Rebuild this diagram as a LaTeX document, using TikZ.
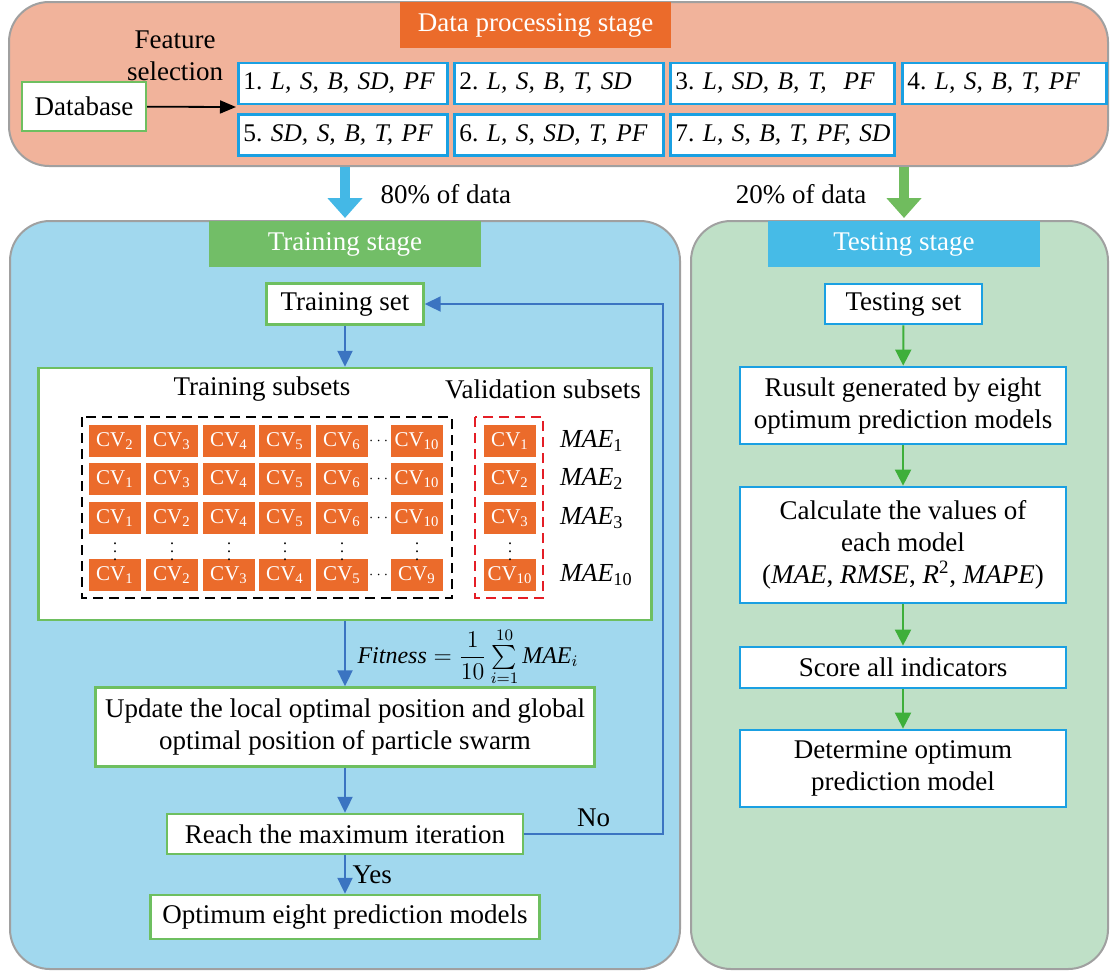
\documentclass[tikz,border=0pt]{standalone}
\usepackage{amsmath}
\usepackage{fontspec}
\setmainfont{Liberation Serif}
\usepackage{tikz}
\usetikzlibrary{arrows.meta,positioning}

\definecolor{DataBg}{HTML}{F1B39B}
\definecolor{TrainBg}{HTML}{A1D8EE}
\definecolor{TestBg}{HTML}{BFE0C7}
\definecolor{PanelGray}{HTML}{A0A0A0}
\definecolor{StageOrange}{HTML}{EB6B2B}
\definecolor{TitleGreen}{HTML}{72BE67}
\definecolor{TitleBlue}{HTML}{46BBE7}
\definecolor{BoxGreen}{HTML}{6EBF60}
\definecolor{BoxBlue}{HTML}{1AA0E2}
\definecolor{ArrowBlue}{HTML}{3B74C1}
\definecolor{ArrowGreen}{HTML}{3EAF3A}
\definecolor{SplitBlue}{HTML}{44B8E6}
\definecolor{SplitGreen}{HTML}{70BC5E}
\definecolor{DashRed}{HTML}{E41E26}

\begin{document}
\frenchspacing
\begin{tikzpicture}[x=0.5pt,y=-0.5pt,font=\fontsize{13.5}{16}\selectfont,
	panel/.style={draw=PanelGray,line width=1pt,rounded corners=20pt,inner sep=0pt},
	stagetitle/.style={fill=#1,text=white,minimum height=23pt,inner sep=0pt,anchor=north},
	greenbox/.style={draw=BoxGreen,fill=white,line width=1.2pt,inner sep=2pt,align=center},
	bluebox/.style={draw=BoxBlue,fill=white,line width=1.4pt,inner sep=2pt,align=center},
	featbox/.style={bluebox,anchor=west,align=left,inner xsep=2.5pt,minimum height=20.5pt,text width=#1,font=\fontsize{12.7}{15}\selectfont},
	cvcell/.style={fill=StageOrange,text=white,minimum width=26pt,minimum height=16pt,inner sep=0pt,font=\fontsize{10.5}{12}\selectfont},
	foldbox/.style={draw=#1,line width=1.2pt,dash pattern=on 5pt off 3pt},
	trainflow/.style={draw=ArrowBlue,line width=1pt,-{Triangle[length=8pt,width=7.5pt]}},
	testflow/.style={draw=ArrowGreen,line width=1pt,-{Triangle[length=8pt,width=8pt]}},
	split/.style={draw=#1,line width=5pt,shorten >=1.5pt,-{Triangle[length=10pt,width=17pt]}}]
	\useasboundingbox (0,0) rectangle (1111,970);

	\node (dpp) at (558.5,84)  [panel,fill=DataBg,minimum width=549.5pt,minimum height=82pt] {};
	\node (trp) at (345,595)   [panel,fill=TrainBg,minimum width=335pt,minimum height=374pt] {};
	\node (tsp) at (899.5,595) [panel,fill=TestBg,minimum width=208.5pt,minimum height=374pt] {};

	\node (dpt) at (535.5,2) [stagetitle=StageOrange,minimum width=135.5pt] {Data processing stage};
	\node (trt) at (345,221) [stagetitle=TitleGreen,minimum width=136pt] {Training stage};
	\node (tst) at (904,221) [stagetitle=TitleBlue,minimum width=136pt] {Testing stage};

	\node (fsel) at (175,56) [align=center] {Feature\\selection};
	\node (db) at (84,106.5) [greenbox,minimum width=62pt,minimum height=24.5pt] {Database};
	\coordinate (fsin) at (236,107);
	\draw [-{Triangle[length=8pt,width=6.5pt]},line width=0.9pt] (db) -- (fsin);

	\node (fs1) at (237,83.5) [featbox=99.5pt] {\mbox{1. \textit{L, S, B, SD, PF}}};
	\node (fs2) at (453,83.5) [featbox=99.5pt] {\mbox{2. \textit{L, S, B, T, SD}}};
	\node (fs3) at (669,83.5) [featbox=107pt]  {\mbox{3. \textit{L, SD, B, T,\ \ PF}}};
	\node (fs4) at (901,83.5) [featbox=97pt]   {\mbox{4. \textit{L, S, B, T, PF}}};
	\node (fs5) at (237,135)  [featbox=99.5pt] {\mbox{5. \textit{SD, S, B, T, PF}}};
	\node (fs6) at (453,135)  [featbox=99.5pt] {\mbox{6. \textit{L, S, SD, T, PF}}};
	\node (fs7) at (669,135)  [featbox=107pt]  {\mbox{7. \textit{L, S, B, T, PF, SD}}};

	\draw [split=SplitBlue]  (dpp.south -| trt) -- node (p80) [right=12pt] {80\% of data} (trt.north);
	\draw [split=SplitGreen] (dpp.south -| tst) -- node (p20) [left=13pt] {20\% of data} (tst.north);

	\node (trset) at (345,304) [greenbox,minimum width=78.5pt,minimum height=20.5pt] {Training set};
	\node (cvbox) at (345,494) [greenbox,minimum width=306.5pt,minimum height=126pt] {};
	\node (trsub) at (262,389) {Training subsets};
	\node (vasub) at (543,389) {Validation subsets};
	\draw [foldbox=black]   (82,417) rectangle (452,598);
	\draw [foldbox=DashRed] (475,417) rectangle (543,598);

	\foreach \y/\row/\v [count=\r] in {441/{115/2,172/3,229/4,285/5,342/6,417/10}/1,
			479/{115/1,172/3,229/4,285/5,342/6,417/10}/2,
			518/{115/1,172/2,229/4,285/5,342/6,417/10}/3,
			575/{115/1,172/2,229/3,285/4,342/5,417/9}/10} {
		\foreach \x/\k [count=\c] in \row
			\node (cv\r\c) at (\x,\y) [cvcell] {CV\textsubscript{\k}};
		\node (hd\r) at (380,\y) [inner sep=0pt,font=\fontsize{7}{8}\selectfont] {$\cdots$};
		\node (val\r) at (510,\y) [cvcell] {CV\textsubscript{\v}};
		\node (mae\r) at (553,\y) [anchor=west,font=\fontsize{13}{15}\selectfont] {\textit{MAE}\textsubscript{\v}};
	}
	\foreach \x [count=\c] in {115,172,229,285,342,417,510}
		\node (vd\c) at (\x,546) [inner sep=0pt,font=\fontsize{8}{9}\selectfont] {$\vdots$};

	\node (fit) at (468,657) [inner sep=0pt,font=\fontsize{12}{14}\selectfont] {$\textit{Fitness}=\dfrac{1}{10}\sum\limits_{i=1}^{10}\textit{MAE}_i$};
	\node (upd) at (345,727) [greenbox,minimum width=249.5pt,minimum height=39.5pt] {Update the local optimal position and global\\optimal position of particle swarm};
	\node (reach) at (345,834) [greenbox,minimum width=178pt,minimum height=20pt] {Reach the maximum iteration};
	\node (opt) at (345,917) [greenbox,minimum width=194.5pt,minimum height=22pt] {Optimum eight prediction models};
	\coordinate (back) at (663,834);

	\draw [trainflow] (trset) -- (cvbox);
	\draw [trainflow] (cvbox) -- (upd);
	\draw [trainflow] (upd) -- (reach);
	\draw [trainflow] (reach) -- node (yes) [right] {Yes} (opt);
	\draw [trainflow] (reach) -- node (no) [above] {No} (back) |- (trset);

	\node (tsset) at (903.5,304) [bluebox,minimum width=78.5pt,minimum height=20pt] {Testing set};
	\node (res) at (903,405.5) [bluebox,minimum width=163pt,minimum height=38.5pt] {Rusult generated by eight\\optimum prediction models};
	\node (calc) at (903,545) [bluebox,minimum width=163pt,minimum height=58pt] {Calculate the values of\\each model\\(\textit{MAE}, \textit{RMSE}, \textit{R}\textsuperscript{2}, \textit{MAPE})};
	\node (score) at (903,667.5) [bluebox,minimum width=163pt,minimum height=20.5pt] {Score all indicators};
	\node (det) at (903,768.5) [bluebox,minimum width=163pt,minimum height=38.5pt] {Determine optimum\\prediction model};

	\draw [testflow] (tsset) -- (res);
	\draw [testflow] (res) -- (calc);
	\draw [testflow] (calc) -- (score);
	\draw [testflow] (score) -- (det);
\end{tikzpicture}
\end{document}
